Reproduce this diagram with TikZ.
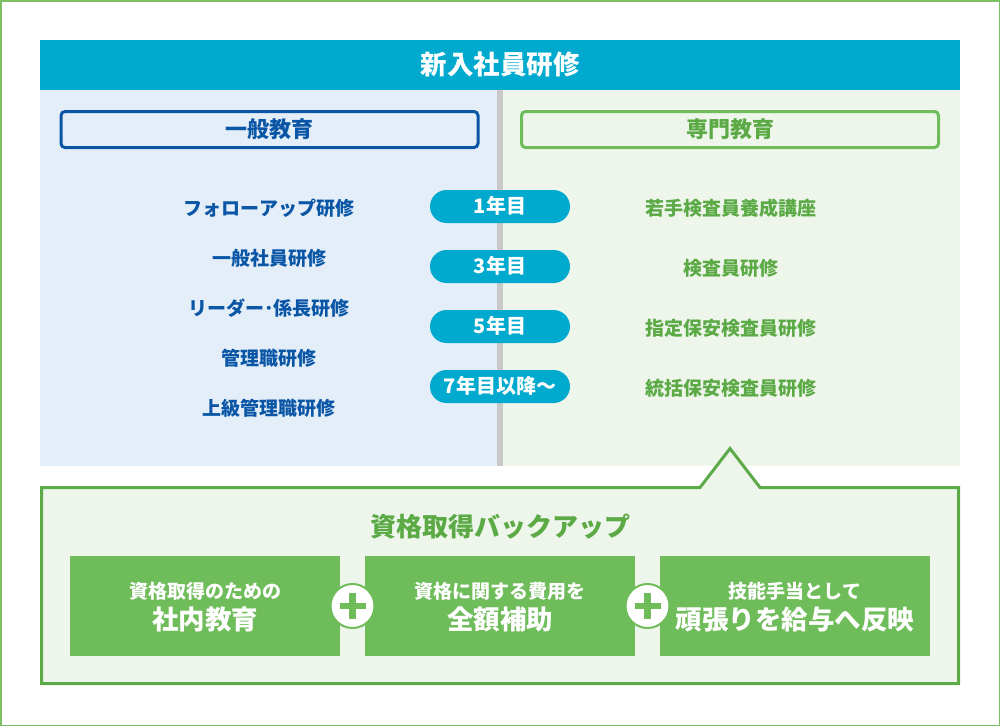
\documentclass[tikz,border=0pt]{standalone}
\usepackage{fontspec}
\setmainfont{Noto Sans CJK JP}
\definecolor{cyanh}{HTML}{00A9CE}
\definecolor{lpanel}{HTML}{E4EEF8}
\definecolor{rpanel}{HTML}{EEF6EC}
\definecolor{divgray}{HTML}{C9C9C9}
\definecolor{blueT}{HTML}{0A56A6}
\definecolor{greenT}{HTML}{5BAA45}
\definecolor{boxG}{HTML}{6FBC5A}
\definecolor{borderG}{HTML}{5DAA48}
\definecolor{outerG}{HTML}{7CC063}
\newcommand{\fsz}[1]{\fontsize{#1}{#1}\selectfont\bfseries}
\tikzset{
  jt/.code={\pgfmathsetmacro\jth{0.88*#1}\pgfmathsetmacro\jtd{0.14*#1}%
    \tikzset{inner sep=0pt, text height/.expanded=\jth pt, text depth/.expanded=\jtd pt, font=\fsz{#1}}},
  hdrbox/.style={jt=26.5, fill=cyanh, text=white, minimum width=920pt, minimum height=50pt},
  catblue/.style={jt=22, draw=blueT, line width=3pt, rounded corners=4pt, fill=lpanel, text=blueT, minimum width=417pt, minimum height=36pt},
  catgreen/.style={jt=22, draw=boxG, line width=3pt, rounded corners=4pt, fill=rpanel, text=greenT, minimum width=417pt, minimum height=36pt},
  pill/.style={jt=20, fill=cyanh, text=white, minimum width=140pt, minimum height=33pt, rounded corners=16.5pt},
  litem/.style={jt=19, text=blueT},
  ritem/.style={jt=19, text=greenT},
  gtitle/.style={jt=26, text=greenT},
  gbox/.style={fill=boxG, minimum width=270pt, minimum height=100pt, inner sep=0pt},
  smalltxt/.style={jt=19, text=white},
  bigtxt/.style={jt=26.5, text=white},
  plusc/.style={circle, fill=white, draw=boxG, line width=2pt, minimum size=44pt, inner sep=0pt},
}
\begin{document}
\begin{tikzpicture}[x=1pt,y=-1pt]
\useasboundingbox (0,0) rectangle (1000,726);
\fill[white] (0,0) rectangle (1000,726);
\draw[outerG, line width=1.5pt] (0.75,0.75) rectangle (999.25,725.25);
% panels
\fill[lpanel] (40,90) rectangle (497,466);
\fill[rpanel] (503,90) rectangle (960,466);
\fill[divgray] (497,90) rectangle (503,466);
% header
\node[hdrbox] (hdr) at (500,65) {新入社員研修};
% categories
\node[catblue] (ippan) at (269.5,129.5) {一般教育};
\node[catgreen] (senmon) at (730,129.5) {専門教育};
% left items
\node[litem] (l1) at (269,208) {フォローアップ研修};
\node[litem] (l2) at (269,258) {一般社員研修};
\node[litem] (l3) at (269,308) {リーダー･係長研修};
\node[litem] (l4) at (269,358) {管理職研修};
\node[litem] (l5) at (269,408) {上級管理職研修};
% pills
\node[pill] (y1) at (500,206.5) {1年目};
\node[pill] (y3) at (500,266.5) {3年目};
\node[pill] (y5) at (500,326.5) {5年目};
\node[pill] (y7) at (500,386.5) {7年目以降〜};
% right items
\node[ritem] (r1) at (731,208) {若手検査員養成講座};
\node[ritem] (r2) at (731,268) {検査員研修};
\node[ritem] (r3) at (731,328) {指定保安検査員研修};
\node[ritem] (r4) at (731,388) {統括保安検査員研修};
% backup frame with notch
\draw[borderG, fill=rpanel, line width=3pt, line join=miter]
  (41.5,487.5) -- (700,487.5) -- (730,448.5) -- (760,487.5) -- (958.5,487.5)
  -- (958.5,683.5) -- (41.5,683.5) -- cycle;
\node[gtitle] (bt) at (500,527) {資格取得バックアップ};
% boxes
\node[gbox] (b1) at (205,606) {};
\node[gbox] (b2) at (500,606) {};
\node[gbox] (b3) at (795,606) {};
\node[smalltxt] (b1s) at (205,591) {資格取得のための};
\node[bigtxt] (b1l) at (205,620) {社内教育};
\node[smalltxt] (b2s) at (500,591) {資格に関する費用を};
\node[bigtxt] (b2l) at (500,620) {全額補助};
\node[smalltxt] (b3s) at (795,591) {技能手当として};
\node[bigtxt] (b3l) at (795,620) {頑張りを給与へ反映};
% plus signs
\node[plusc] (p1) at (352.5,606) {};
\node[plusc] (p2) at (647.5,606) {};
\fill[boxG] (p1) ++(-13,-3.2) rectangle ++(26,6.4);
\fill[boxG] (p1) ++(-3.2,-13) rectangle ++(6.4,26);
\fill[boxG] (p2) ++(-13,-3.2) rectangle ++(26,6.4);
\fill[boxG] (p2) ++(-3.2,-13) rectangle ++(6.4,26);
\end{tikzpicture}
\end{document}
